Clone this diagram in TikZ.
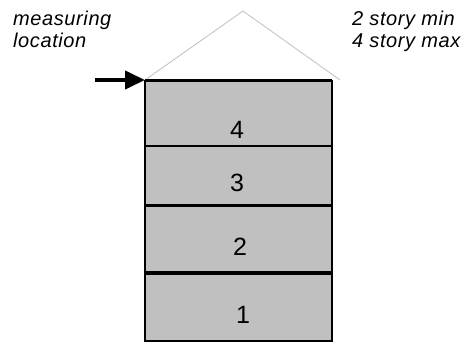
\documentclass[tikz,border=0pt]{standalone}
\usepackage{fontspec}
\setmainfont{Liberation Sans}
\usetikzlibrary{arrows.meta}
\begin{document}
\begin{tikzpicture}[x=1pt,y=-1pt,
  note/.style={font=\fontsize{20}{22}\selectfont\itshape\addfontfeatures{LetterSpace=3}, anchor=base west, inner sep=0pt},
  floornum/.style={font=\fontsize{25}{25}\selectfont, inner sep=0pt},
  storybox/.style={fill=storygray, draw=none},
  divider/.style={draw=black}]
\definecolor{storygray}{RGB}{192,192,192}
\definecolor{roofgray}{RGB}{196,196,196}
\useasboundingbox (0,0) rectangle (476,351);

% building body
\coordinate (tl) at (145,80);
\coordinate (tr) at (332,80);
\coordinate (bl) at (145,341);
\coordinate (br) at (332,341);
\fill[storybox] (tl) rectangle (br);

% roof outline
\coordinate (apex) at (243,11);
\coordinate (eave) at (340,80);
\draw[roofgray, line width=0.9pt] (tl) -- (apex) -- (eave);

% floor dividers
\draw[divider, line width=1.2pt] (145,146) -- (332,146);
\draw[divider, line width=3pt] (145,205) -- (332,205);
\draw[divider, line width=4pt] (145,273) -- (332,273);
\draw[divider, line width=1.6pt] (tl) -- (bl) -- (br) -- (tr);
\draw[divider, line width=3pt] (tl) -- (tr);

% story numbers
\node[floornum] (f4) at (237,130) {4};
\node[floornum] (f3) at (237,183) {3};
\node[floornum] (f2) at (240,247) {2};
\node[floornum] (f1) at (243,315) {1};

% measuring point arrow
\coordinate (arrowstart) at (95,80);
\draw[line width=4pt, -{Triangle[length=20pt,width=18pt]}] (arrowstart) -- (tl);

% notes
\node[note] (m1) at (13,25) {measuring};
\node[note] (m2) at (13,47) {location};
\node[note] (s1) at (352,25) {2 story min};
\node[note] (s2) at (352,47) {4 story max};
\end{tikzpicture}
\end{document}
